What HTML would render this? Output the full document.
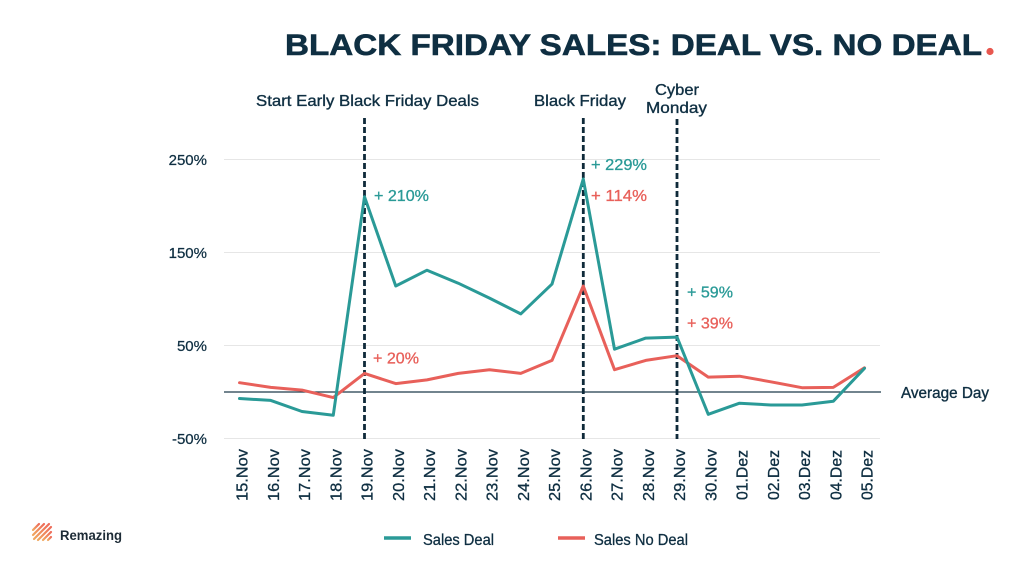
<!DOCTYPE html>
<html>
<head>
<meta charset="utf-8">
<style>
  html,body{margin:0;padding:0;background:#ffffff;}
  svg{display:block;}
  text{font-family:"Liberation Sans", sans-serif;}
</style>
</head>
<body>
<svg width="1024" height="576" viewBox="0 0 1024 576" xmlns="http://www.w3.org/2000/svg">
  <rect width="1024" height="576" fill="#ffffff"/>

  <!-- Title -->
  <text x="285" y="55" font-size="30" font-weight="bold" fill="#0f2f42" stroke="#0f2f42" stroke-width="0.6" textLength="697" lengthAdjust="spacingAndGlyphs">BLACK FRIDAY SALES: DEAL VS. NO DEAL</text>
  <circle cx="990" cy="51.5" r="3.6" fill="#e8574f"/>

  <!-- Event labels -->
  <g fill="#0f2f42" stroke="#0f2f42" stroke-width="0.35" font-size="16">
    <text x="256" y="106" textLength="223" lengthAdjust="spacingAndGlyphs">Start Early Black Friday Deals</text>
    <text x="534" y="106" textLength="92" lengthAdjust="spacingAndGlyphs">Black Friday</text>
    <text x="655" y="95" textLength="44" lengthAdjust="spacingAndGlyphs">Cyber</text>
    <text x="646" y="113" textLength="61" lengthAdjust="spacingAndGlyphs">Monday</text>
  </g>

  <!-- Gridlines -->
  <g stroke="#e6e6e6" stroke-width="1">
    <line x1="224" y1="159.5" x2="880" y2="159.5"/>
    <line x1="224" y1="252.5" x2="880" y2="252.5"/>
    <line x1="224" y1="345.5" x2="880" y2="345.5"/>
    <line x1="224" y1="438.5" x2="880" y2="438.5"/>
  </g>
  <!-- Zero line -->
  <line x1="224" y1="392" x2="881" y2="392" stroke="#1f3b4a" stroke-width="1.2"/>

  <!-- Y axis labels -->
  <g fill="#0f2f42" font-size="15" text-anchor="end" stroke="#0f2f42" stroke-width="0.25">
    <text x="207" y="165">250%</text>
    <text x="207" y="258">150%</text>
    <text x="207" y="351">50%</text>
    <text x="207" y="444">-50%</text>
  </g>

  <!-- Dashed event lines -->
  <g stroke="#0f2a3a" stroke-width="2.8" stroke-dasharray="6,3">
    <line x1="364.5" y1="118" x2="364.5" y2="439"/>
    <line x1="583.3" y1="118" x2="583.3" y2="439"/>
    <line x1="677" y1="119" x2="677" y2="439"/>
  </g>

  <!-- Series: Sales No Deal (red) -->
  <polyline fill="none" stroke="#e8605a" stroke-width="3" stroke-linejoin="round" stroke-linecap="round"
    points="239.5,382.7 270.75,387.4 302,390.1 333.25,397.6 364.5,373.4 395.75,383.6 427,379.9 458.25,373.4 489.5,369.7 520.75,373.4 552,360.4 583.25,286.0 614.5,369.7 645.75,360.4 677,355.7 708.25,377.1 739.5,376.2 770.75,381.8 802,387.7 833.25,387.4 864.5,367.8"/>

  <!-- Series: Sales Deal (teal) -->
  <polyline fill="none" stroke="#2a9a97" stroke-width="3" stroke-linejoin="round" stroke-linecap="round"
    points="239.5,398.5 270.75,400.4 302,411.5 333.25,415.3 364.5,196.7 395.75,286.0 427,270.2 458.25,283.2 489.5,298.1 520.75,313.9 552,284.1 583.25,179.0 614.5,349.2 645.75,338.1 677,337.1 708.25,414.3 739.5,403.2 770.75,405.0 802,405.0 833.25,401.3 864.5,368.3"/>

  <!-- Value annotations -->
  <g font-size="15.5" stroke-width="0.3">
    <text x="374" y="201" fill="#2a9a97" stroke="#2a9a97" textLength="55" lengthAdjust="spacingAndGlyphs">+ 210%</text>
    <text x="373" y="363.5" fill="#e8605a" stroke="#e8605a" textLength="46" lengthAdjust="spacingAndGlyphs">+ 20%</text>
    <text x="591" y="170" fill="#2a9a97" stroke="#2a9a97" textLength="56" lengthAdjust="spacingAndGlyphs">+ 229%</text>
    <text x="591" y="201" fill="#e8605a" stroke="#e8605a" textLength="56" lengthAdjust="spacingAndGlyphs">+ 114%</text>
    <text x="687" y="297.5" fill="#2a9a97" stroke="#2a9a97" textLength="46" lengthAdjust="spacingAndGlyphs">+ 59%</text>
    <text x="687" y="328.5" fill="#e8605a" stroke="#e8605a" textLength="46" lengthAdjust="spacingAndGlyphs">+ 39%</text>
  </g>

  <!-- Average Day -->
  <text x="901" y="398" font-size="15.5" fill="#0f2f42" stroke="#0f2f42" stroke-width="0.35" textLength="88" lengthAdjust="spacingAndGlyphs">Average Day</text>

  <!-- X tick labels (rotated, reading bottom to top) -->
  <g font-size="16" fill="#0f2f42" stroke="#0f2f42" stroke-width="0.3" text-anchor="start">
    <text transform="translate(247.5,501) rotate(-90)" textLength="52" lengthAdjust="spacingAndGlyphs">15.Nov</text>
    <text transform="translate(278.75,501) rotate(-90)" textLength="52" lengthAdjust="spacingAndGlyphs">16.Nov</text>
    <text transform="translate(310,501) rotate(-90)" textLength="52" lengthAdjust="spacingAndGlyphs">17.Nov</text>
    <text transform="translate(341.25,501) rotate(-90)" textLength="52" lengthAdjust="spacingAndGlyphs">18.Nov</text>
    <text transform="translate(372.5,501) rotate(-90)" textLength="52" lengthAdjust="spacingAndGlyphs">19.Nov</text>
    <text transform="translate(403.75,501) rotate(-90)" textLength="52" lengthAdjust="spacingAndGlyphs">20.Nov</text>
    <text transform="translate(435,501) rotate(-90)" textLength="52" lengthAdjust="spacingAndGlyphs">21.Nov</text>
    <text transform="translate(466.25,501) rotate(-90)" textLength="52" lengthAdjust="spacingAndGlyphs">22.Nov</text>
    <text transform="translate(497.5,501) rotate(-90)" textLength="52" lengthAdjust="spacingAndGlyphs">23.Nov</text>
    <text transform="translate(528.75,501) rotate(-90)" textLength="52" lengthAdjust="spacingAndGlyphs">24.Nov</text>
    <text transform="translate(560,501) rotate(-90)" textLength="52" lengthAdjust="spacingAndGlyphs">25.Nov</text>
    <text transform="translate(591.25,501) rotate(-90)" textLength="52" lengthAdjust="spacingAndGlyphs">26.Nov</text>
    <text transform="translate(622.5,501) rotate(-90)" textLength="52" lengthAdjust="spacingAndGlyphs">27.Nov</text>
    <text transform="translate(653.75,501) rotate(-90)" textLength="52" lengthAdjust="spacingAndGlyphs">28.Nov</text>
    <text transform="translate(685,501) rotate(-90)" textLength="52" lengthAdjust="spacingAndGlyphs">29.Nov</text>
    <text transform="translate(716.25,501) rotate(-90)" textLength="52" lengthAdjust="spacingAndGlyphs">30.Nov</text>
    <text transform="translate(747.5,500) rotate(-90)" textLength="50" lengthAdjust="spacingAndGlyphs">01.Dez</text>
    <text transform="translate(778.75,500) rotate(-90)" textLength="50" lengthAdjust="spacingAndGlyphs">02.Dez</text>
    <text transform="translate(810,500) rotate(-90)" textLength="50" lengthAdjust="spacingAndGlyphs">03.Dez</text>
    <text transform="translate(841.25,500) rotate(-90)" textLength="50" lengthAdjust="spacingAndGlyphs">04.Dez</text>
    <text transform="translate(872.5,500) rotate(-90)" textLength="50" lengthAdjust="spacingAndGlyphs">05.Dez</text>
  </g>

  <!-- Legend -->
  <line x1="384" y1="538" x2="411" y2="538" stroke="#2a9a97" stroke-width="3.5"/>
  <text x="423" y="545" font-size="15.5" fill="#0f2f42" stroke="#0f2f42" stroke-width="0.3" textLength="71" lengthAdjust="spacingAndGlyphs">Sales Deal</text>
  <line x1="558" y1="538" x2="585" y2="538" stroke="#e8605a" stroke-width="3.5"/>
  <text x="594" y="545" font-size="15.5" fill="#0f2f42" stroke="#0f2f42" stroke-width="0.3" textLength="94" lengthAdjust="spacingAndGlyphs">Sales No Deal</text>

  <!-- Logo -->
  <defs>
    <linearGradient id="lg" x1="0" y1="1" x2="1" y2="0">
      <stop offset="0" stop-color="#f0a860"/>
      <stop offset="1" stop-color="#ee6a58"/>
    </linearGradient>
  </defs>
  <g stroke="url(#lg)" stroke-width="2.2" stroke-linecap="round">
    <line x1="33" y1="530" x2="39" y2="524"/>
    <line x1="33" y1="535" x2="44" y2="524"/>
    <line x1="34" y1="539" x2="49" y2="524"/>
    <line x1="38" y1="540" x2="51" y2="527"/>
    <line x1="43" y1="540" x2="51" y2="532"/>
    <line x1="48" y1="540" x2="51" y2="537"/>
  </g>
  <text x="60" y="540" font-size="13.5" font-weight="bold" fill="#1d2b36" textLength="62" lengthAdjust="spacingAndGlyphs">Remazing</text>
</svg>
</body>
</html>
